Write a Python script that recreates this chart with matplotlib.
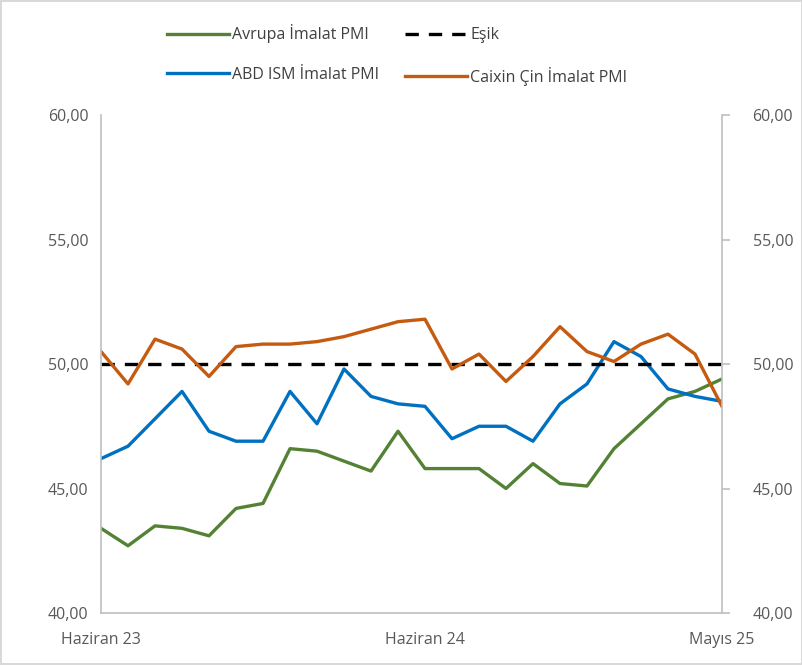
import matplotlib
matplotlib.use("Agg")
import matplotlib.pyplot as plt
from matplotlib.ticker import FuncFormatter

plt.rcParams["font.family"] = ["Open Sans", "DejaVu Sans"]

# veriler: Haziran 2023 - Mayıs 2025, aylık
aylar = ["Haziran 23", "Temmuz 23", "Ağustos 23", "Eylül 23", "Ekim 23", "Kasım 23",
         "Aralık 23", "Ocak 24", "Şubat 24", "Mart 24", "Nisan 24", "Mayıs 24",
         "Haziran 24", "Temmuz 24", "Ağustos 24", "Eylül 24", "Ekim 24", "Kasım 24",
         "Aralık 24", "Ocak 25", "Şubat 25", "Mart 25", "Nisan 25", "Mayıs 25"]
avrupa = [43.4, 42.7, 43.5, 43.4, 43.1, 44.2, 44.4, 46.6, 46.5, 46.1, 45.7, 47.3,
          45.8, 45.8, 45.8, 45.0, 46.0, 45.2, 45.1, 46.6, 47.6, 48.6, 48.9, 49.4]
abd_ism = [46.2, 46.7, 47.8, 48.9, 47.3, 46.9, 46.9, 48.9, 47.6, 49.8, 48.7, 48.4,
           48.3, 47.0, 47.5, 47.5, 46.9, 48.4, 49.2, 50.9, 50.3, 49.0, 48.7, 48.5]
caixin = [50.5, 49.2, 51.0, 50.6, 49.5, 50.7, 50.8, 50.8, 50.9, 51.1, 51.4, 51.7,
          51.8, 49.8, 50.4, 49.3, 50.3, 51.5, 50.5, 50.1, 50.8, 51.2, 50.4, 48.3]
esik = [50.0] * len(aylar)
gosterilen = ["Haziran 23", "Haziran 24", "Mayıs 25"]

x = list(range(len(aylar)))

fig = plt.figure(figsize=(8.03, 6.65), dpi=100)
fig.patch.set_edgecolor("#D9D9D9")
fig.patch.set_linewidth(1.5)
ax = fig.add_axes([0.1258, 0.0782, 0.7733, 0.7488])

l1, = ax.plot(x, avrupa, color="#548235", lw=2.4, label="Avrupa İmalat PMI")
l2, = ax.plot(x, abd_ism, color="#0070C0", lw=2.4, label="ABD ISM İmalat PMI")
l3, = ax.plot(x, esik, color="black", lw=2.4, dashes=(4, 3), label="Eşik")
l4, = ax.plot(x, caixin, color="#C55A11", lw=2.4, label="Caixin Çin İmalat PMI")

ax.set_xlim(0, len(aylar) - 1)
ax.set_ylim(40, 60)
ax.set_yticks([40, 45, 50, 55, 60])
fmt = FuncFormatter(lambda v, p: f"{v:.2f}".replace(".", ","))
ax.yaxis.set_major_formatter(fmt)

ax.set_xticks([aylar.index(a) for a in gosterilen])
ax.set_xticklabels(gosterilen)

for s in ["top", "right"]:
    ax.spines[s].set_visible(False)
for s in ["left", "bottom"]:
    ax.spines[s].set_color("#BFBFBF")
    ax.spines[s].set_linewidth(1.2)
ax.tick_params(axis="y", length=0, pad=9, labelsize=11.5, labelcolor="#595959")
ax.tick_params(axis="x", length=0, pad=14, labelsize=11.5, labelcolor="#595959")

ax2 = ax.twinx()
ax2.set_ylim(40, 60)
ax2.set_yticks([40, 45, 50, 55, 60])
ax2.yaxis.set_major_formatter(fmt)
for s in ["top", "left", "bottom"]:
    ax2.spines[s].set_visible(False)
ax2.spines["right"].set_color("#BFBFBF")
ax2.spines["right"].set_linewidth(1.2)
ax2.tick_params(axis="y", length=6, color="#BFBFBF", width=1.2, pad=16,
                labelsize=11.5, labelcolor="#595959")

fig.legend(handles=[l1, l2, l3, l4], ncol=2, loc="upper left",
           bbox_to_anchor=(0.19, 0.985), frameon=False, fontsize=11.5,
           handlelength=3.9, handletextpad=0.2, columnspacing=1.6,
           labelspacing=1.45, labelcolor="#404040")

fig.savefig("out.png", dpi=100)
